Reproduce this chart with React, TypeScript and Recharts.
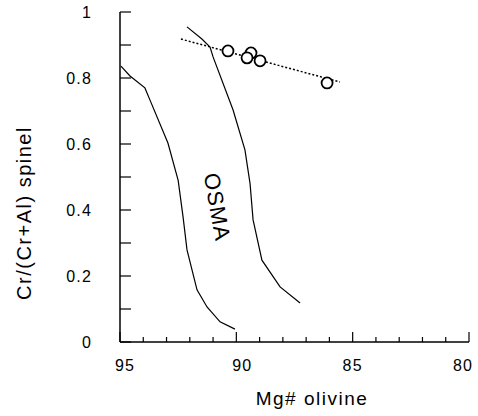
import React from 'react'
import { ComposedChart, Line, Scatter, XAxis, YAxis, Label, ReferenceDot } from 'recharts'

// OSMA field boundaries (Mg# olivine vs Cr/(Cr+Al) spinel)
const leftBoundary = [
    { x: 94.96, y: 0.836 },
    { x: 94.57, y: 0.806 },
    { x: 93.93, y: 0.77 },
    { x: 93.71, y: 0.733 },
    { x: 92.94, y: 0.603 },
    { x: 92.5, y: 0.49 },
    { x: 92.29, y: 0.379 },
    { x: 92.12, y: 0.279 },
    { x: 91.69, y: 0.158 },
    { x: 91.26, y: 0.106 },
    { x: 90.7, y: 0.061 },
    { x: 90.06, y: 0.039 },
]

const rightBoundary = [
    { x: 92.12, y: 0.955 },
    { x: 91.48, y: 0.918 },
    { x: 91.13, y: 0.894 },
    { x: 91.0, y: 0.864 },
    { x: 90.14, y: 0.703 },
    { x: 89.63, y: 0.582 },
    { x: 89.41, y: 0.48 },
    { x: 89.28, y: 0.37 },
    { x: 88.9, y: 0.248 },
    { x: 88.12, y: 0.167 },
    { x: 87.26, y: 0.118 },
]

const samples = [
    { x: 90.36, y: 0.882 },
    { x: 89.37, y: 0.876 },
    { x: 89.54, y: 0.861 },
    { x: 88.98, y: 0.852 },
    { x: 86.1, y: 0.785 },
]

const trend = [
    { x: 92.38, y: 0.918 },
    { x: 85.55, y: 0.788 },
]

const xTicks = [95, 94, 93, 92, 91, 90, 89, 88, 87, 86, 85, 84, 83, 82, 81, 80]
const xLabels = [95, 90, 85, 80]
const yTicks = [0, 0.1, 0.2, 0.3, 0.4, 0.5, 0.6, 0.7, 0.8, 0.9, 1]
const yLabels = [0, 0.2, 0.4, 0.6, 0.8, 1]

const fontFamily = '"Liberation Sans", Arial, sans-serif'

// small nudges so the labels sit like the scanned original
const xLabelShift: Record<number, number> = { 95: 5, 90: 6, 85: 0, 80: -6 }

const XTick = (props: any) => {
    const { x, y, payload } = props
    const major = xLabels.includes(payload.value)
    return (
        <g>
            <line x1={x} y1={y} x2={x} y2={y - (major ? 10 : 5)} stroke='#000' strokeWidth={1.2} />
            {major && (
                <text x={x + (xLabelShift[payload.value] || 0)} y={y + 29} textAnchor='middle' fontSize={16} letterSpacing={1.2} fontFamily={fontFamily} fill='#000'>
                    {payload.value}
                </text>
            )}
        </g>
    )
}

const YTick = (props: any) => {
    const { x, y, payload } = props
    const labelled = yLabels.some(v => Math.abs(v - payload.value) < 1e-6)
    return (
        <g>
            <line x1={x} y1={y} x2={x + 11} y2={y} stroke='#000' strokeWidth={1.2} />
            {labelled && (
                <text x={x - 28} y={y + 6} textAnchor='end' fontSize={16} letterSpacing={1.2} fontFamily={fontFamily} fill='#000'>
                    {payload.value}
                </text>
            )}
        </g>
    )
}

const App = () => {
    return (
        <div style={{ position: 'absolute', left: 0, top: 0, background: '#fff' }}>
            <ComposedChart width={478} height={416} margin={{ top: 12, right: 9, left: 0, bottom: 0 }}>
                <XAxis
                    dataKey='x'
                    type='number'
                    domain={[80, 95]}
                    reversed
                    ticks={xTicks}
                    interval={0}
                    tickSize={0}
                    tickMargin={0}
                    tickLine={false}
                    tick={<XTick />}
                    height={74}
                    stroke='#000'
                    strokeWidth={1.5}
                    allowDataOverflow
                >
                    <Label
                        content={() => (
                            <text x={312} y={405} textAnchor='middle' fontSize={19} letterSpacing={1.5} fontFamily={fontFamily} fill='#000'>
                                Mg# olivine
                            </text>
                        )}
                    />
                </XAxis>
                <YAxis
                    dataKey='y'
                    type='number'
                    domain={[0, 1]}
                    ticks={yTicks}
                    interval={0}
                    tickSize={0}
                    tickMargin={0}
                    tickLine={false}
                    tick={<YTick />}
                    width={120}
                    stroke='#000'
                    strokeWidth={1.5}
                    allowDataOverflow
                >
                    <Label
                        content={() => (
                            <text
                                x={24}
                                y={213}
                                textAnchor='middle'
                                dominantBaseline='central'
                                transform='rotate(-90, 24, 213)'
                                fontSize={20}
                                letterSpacing={1.5}
                                fontFamily={fontFamily}
                                fill='#000'
                            >
                                Cr/(Cr+Al) spinel
                            </text>
                        )}
                    />
                </YAxis>
                <Line data={leftBoundary} dataKey='y' type='linear' stroke='#000' strokeWidth={1.2} dot={false} isAnimationActive={false} />
                <Line data={rightBoundary} dataKey='y' type='linear' stroke='#000' strokeWidth={1.2} dot={false} isAnimationActive={false} />
                <Line data={trend} dataKey='y' type='linear' stroke='#000' strokeWidth={1.5} strokeDasharray='2 2' dot={false} isAnimationActive={false} />
                <Scatter
                    data={samples}
                    dataKey='y'
                    isAnimationActive={false}
                    shape={(p: any) => <circle cx={p.cx} cy={p.cy} r={5.5} fill='#fff' stroke='#000' strokeWidth={1.8} />}
                />
                <ReferenceDot
                    x={90.83}
                    y={0.409}
                    r={0}
                    stroke='none'
                    fill='none'
                    label={{
                        content: (props: any) => {
                            const { viewBox } = props
                            const cx = viewBox.x + (viewBox.width || 0) / 2
                            const cy = viewBox.y + (viewBox.height || 0) / 2
                            return (
                                <text
                                    x={cx}
                                    y={cy}
                                    textAnchor='middle'
                                    dominantBaseline='central'
                                    transform={`rotate(80, ${cx}, ${cy})`}
                                    fontSize={22}
                                    letterSpacing={1}
                                    fontFamily={fontFamily}
                                    fill='#000'
                                >
                                    OSMA
                                </text>
                            )
                        },
                    }}
                />
            </ComposedChart>
        </div>
    )
}

export default App
